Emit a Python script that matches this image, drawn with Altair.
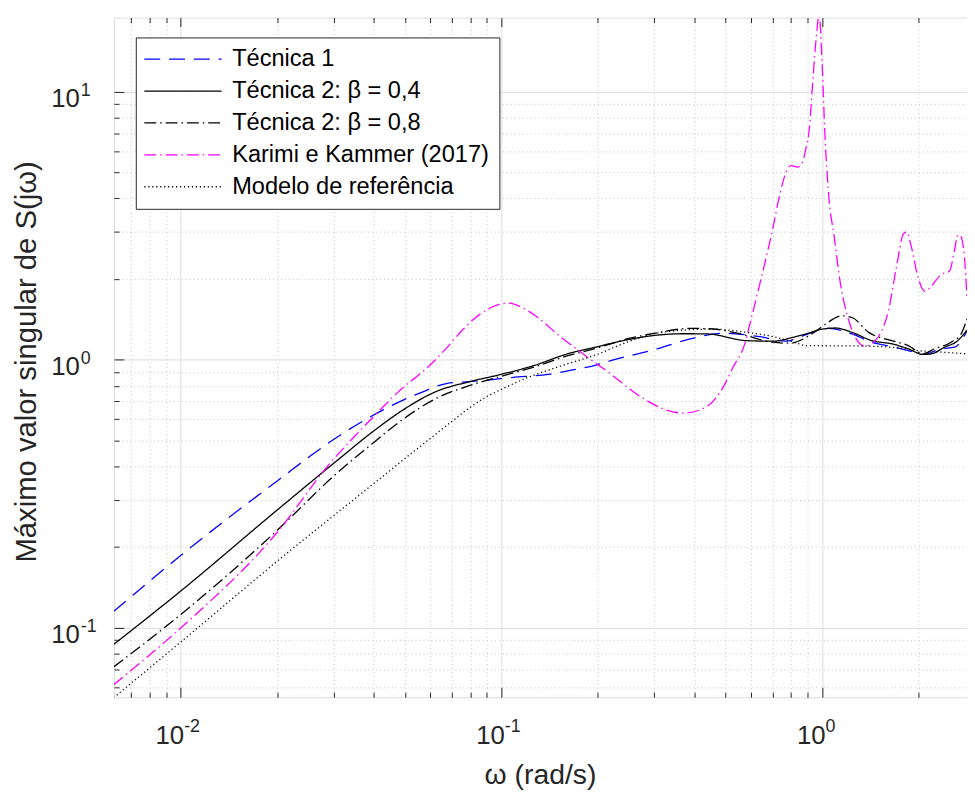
import altair as alt
import pandas as pd

# ---------------- data ----------------
SERIES = ["Técnica 1", "Técnica 2: β = 0,4", "Técnica 2: β = 0,8",
          "Karimi e Kammer (2017)", "Modelo de referência"]
COLORS = ["#0000FF", "#000000", "#000000", "#FF00FF", "#000000"]
DASHES = [[16, 9], [1, 0], [12, 4, 1.5, 4], [12, 4, 1.5, 4], [1.2, 2.8]]

W_T1 = [0.00618, 0.01, 0.02, 0.0308, 0.0428, 0.0494, 0.0569, 0.0673, 0.0775, 0.0898,
        0.108, 0.14, 0.161, 0.196, 0.225, 0.306, 0.388, 0.492, 0.639, 0.772, 0.849,
        0.933, 1.051, 1.24, 1.43, 1.649, 1.857, 2.066, 2.353, 2.587, 2.83]
V_T1 = [0.115, 0.186, 0.353, 0.515, 0.65, 0.707, 0.759, 0.815, 0.827, 0.838,
        0.858, 0.882, 0.908, 0.953, 1.0, 1.098, 1.196, 1.254, 1.219, 1.172, 1.212,
        1.265, 1.309, 1.248, 1.162, 1.12, 1.082, 1.046, 1.098, 1.113, 1.28]

W_T2A = [0.00618, 0.01, 0.02, 0.0307, 0.0398, 0.0494, 0.0623, 0.0793, 0.1, 0.127,
         0.161, 0.196, 0.25, 0.306, 0.37, 0.437, 0.581, 0.703, 0.81, 0.89, 1.0,
         1.102, 1.24, 1.43, 1.649, 1.857, 2.066, 2.192, 2.409, 2.65, 2.83]
V_T2A = [0.0866, 0.137, 0.275, 0.42, 0.54, 0.65, 0.759, 0.827, 0.882, 0.953,
         1.052, 1.113, 1.19, 1.235, 1.25, 1.248, 1.178, 1.172, 1.212, 1.248, 1.30,
         1.313, 1.265, 1.178, 1.146, 1.098, 1.046, 1.052, 1.113, 1.178, 1.29]

W_T2B = [0.00618, 0.01, 0.02, 0.03, 0.0398, 0.0494, 0.0623, 0.0793, 0.1, 0.127,
         0.161, 0.196, 0.25, 0.306, 0.388, 0.458, 0.554, 0.702, 0.791, 0.955, 1.026,
         1.155, 1.24, 1.397, 1.649, 1.857, 2.066, 2.244, 2.526, 2.714, 2.83]
V_T2B = [0.0714, 0.112, 0.231, 0.368, 0.489, 0.60, 0.715, 0.80, 0.868, 0.94,
         1.035, 1.10, 1.20, 1.26, 1.309, 1.302, 1.248, 1.162, 1.152, 1.276, 1.359,
         1.458, 1.437, 1.265, 1.178, 1.129, 1.052, 1.098, 1.162, 1.248, 1.42]

W_KK = [0.00618, 0.01, 0.02, 0.0293, 0.0355, 0.0408, 0.0478, 0.0596, 0.0672, 0.0756,
        0.0852, 0.0958, 0.105, 0.1212, 0.154, 0.186, 0.215, 0.272, 0.32, 0.37, 0.437,
        0.492, 0.528, 0.574, 0.60, 0.639, 0.702, 0.737, 0.772, 0.80, 0.839, 0.869,
        0.890, 0.912, 0.933, 0.955, 0.98, 1.002, 1.021, 1.038, 1.051, 1.089, 1.142,
        1.212, 1.301, 1.348, 1.397, 1.464, 1.517, 1.61, 1.708, 1.792, 1.835, 1.901,
        1.994, 2.09, 2.19, 2.353, 2.496, 2.587, 2.65, 2.70, 2.78, 2.83]
V_KK = [0.0613, 0.0998, 0.227, 0.4125, 0.53, 0.63, 0.76, 0.95, 1.10, 1.29,
        1.47, 1.59, 1.625, 1.52, 1.21, 1.02, 0.90, 0.727, 0.655, 0.632, 0.668,
        0.792, 0.939, 1.146, 1.41, 1.91, 3.09, 4.1, 5.0, 5.3, 5.23, 5.47,
        6.12, 7.24, 10.45, 15.1, 19.2, 12.1, 6.85, 4.87, 3.99, 2.92, 1.91,
        1.397, 1.16, 1.125, 1.13, 1.178, 1.248, 1.52, 2.24, 2.94, 3.0, 2.62,
        2.02, 1.80, 1.88, 2.08, 2.14, 2.55, 2.92, 2.90, 2.40, 1.70]

W_REF = [0.00618, 0.01, 0.02, 0.03, 0.04, 0.05, 0.06, 0.07, 0.08, 0.09, 0.1, 0.12,
         0.15, 0.2, 0.25, 0.3, 0.37, 0.458, 0.581, 0.702, 0.80, 0.849, 0.89, 1.3,
         1.65, 1.99, 2.4, 2.83]
V_REF = [0.0548, 0.0884, 0.177, 0.262, 0.345, 0.428, 0.508, 0.588, 0.665, 0.728,
         0.775, 0.855, 0.94, 1.05, 1.17, 1.25, 1.29, 1.30, 1.265, 1.22, 1.17,
         1.145, 1.129, 1.125, 1.113, 1.082, 1.066, 1.052]

X_DOMAIN = [0.006194, 2.831]
Y_DOMAIN = [0.05501, 18.90]
X_MAJOR = [0.01, 0.1, 1]
X_MINOR = [0.007, 0.008, 0.009, 0.02, 0.03, 0.04, 0.05, 0.06, 0.07, 0.08, 0.09,
           0.2, 0.3, 0.4, 0.5, 0.6, 0.7, 0.8, 0.9, 2]
Y_MAJOR = [0.1, 1, 10]
Y_MINOR = [0.06, 0.07, 0.08, 0.09, 0.2, 0.3, 0.4, 0.5, 0.6, 0.7, 0.8, 0.9,
           2, 3, 4, 5, 6, 7, 8, 9]

rows = []
for name, ws, vs in zip(SERIES, [W_T1, W_T2A, W_T2B, W_KK, W_REF],
                        [V_T1, V_T2A, V_T2B, V_KK, V_REF]):
    for i, (w, v) in enumerate(zip(ws, vs)):
        rows.append({"series": name, "w": w, "v": v, "i": i})
df = pd.DataFrame(rows)

# ---------------- styling ----------------
FONT = "Liberation Sans"
AX = "#262626"
xs = alt.Scale(type="log", domain=X_DOMAIN, nice=False)
ys = alt.Scale(type="log", domain=Y_DOMAIN, nice=False)
base = alt.Chart(df)


def guide(xaxis, yaxis, xtitle=None, ytitle=None):
    return base.mark_line(strokeOpacity=0).encode(
        x=alt.X("w:Q", scale=xs, axis=xaxis, title=xtitle),
        y=alt.Y("v:Q", scale=ys, axis=yaxis, title=ytitle),
        detail="series:N",
    )


def tick_axis(orient, values, size, grid, dash=None, gcolor="#dedede"):
    kw = dict(orient=orient, values=values, tickSize=size, offset=-size,
              labels=False, domain=False, ticks=True, tickColor=AX, tickWidth=1,
              grid=grid, gridColor=gcolor, gridWidth=1)
    if dash is not None:
        kw["gridDash"] = dash
    return alt.Axis(**kw)


def label_axis(orient, values, expr, size, align, padding, offset, **extra):
    return alt.Axis(orient=orient, values=values, labelExpr=expr, labelFont=FONT,
                    labelFontSize=size, labelColor=AX, labelAlign=align,
                    labelBaseline="alphabetic", labelPadding=padding,
                    labelOffset=offset, ticks=False, tickSize=0, domain=False,
                    grid=False, labelFlush=False, labelOverlap=False, **extra)


EXP_X = "datum.value < 0.05 ? '-2' : datum.value < 0.5 ? '-1' : '0'"
EXP_Y = "datum.value < 0.5 ? '-1' : datum.value < 5 ? '0' : '1'"

minor = guide(tick_axis("bottom", X_MINOR, 5, True, [1, 3], "#c2c2c2"),
              tick_axis("left", Y_MINOR, 5, True, [1, 3], "#c2c2c2"))
major = guide(tick_axis("bottom", X_MAJOR, 10, True),
              tick_axis("left", Y_MAJOR, 10, True))
top_minor = guide(tick_axis("top", X_MINOR, 5, False), None)
top_major = guide(tick_axis("top", X_MAJOR, 9, False), None)

labels_base = guide(
    label_axis("bottom", X_MAJOR, "'10'", 26, "right", 47, 3,
               titleFont=FONT, titleFontSize=28.6, titleColor=AX,
               titleFontWeight="normal", titleX=430, titleY=87,
               titleBaseline="alphabetic", titleAlign="center"),
    label_axis("left", Y_MAJOR, "'10'", 26, "right", 35, 15,
               titleFont=FONT, titleFontSize=29.5, titleColor=AX,
               titleFontWeight="normal", titleX=-79, titleY=347, titleAngle=270,
               titleBaseline="alphabetic", titleAlign="center"),
    xtitle="ω (rad/s)", ytitle="Máximo valor singular de S(jω)")
labels_exp = guide(label_axis("bottom", X_MAJOR, EXP_X, 18, "left", 35, 3),
                   label_axis("left", Y_MAJOR, EXP_Y, 18, "left", 34, 4))

legend = alt.Legend(
    title=None, orient="none", legendX=22, legendY=20,
    symbolType="M-1.33,0H6.47", symbolSize=400, symbolStrokeWidth=1.3,
    labelOffset=63.5, labelFont=FONT, labelFontSize=23.8, labelColor="#000000",
    labelLimit=400, rowPadding=7.2, padding=10, strokeColor=AX,
    fillColor="white", symbolOpacity=1)

lines = base.mark_line(strokeWidth=1.3, clip=True, interpolate="monotone").encode(
    x=alt.X("w:Q", scale=xs, axis=None),
    y=alt.Y("v:Q", scale=ys, axis=None),
    color=alt.Color("series:N", scale=alt.Scale(domain=SERIES, range=COLORS),
                    sort=SERIES, legend=legend),
    strokeDash=alt.StrokeDash("series:N", scale=alt.Scale(domain=SERIES, range=DASHES),
                              sort=SERIES, legend=legend),
    order="i:Q",
)

chart = alt.layer(minor, major, top_minor, top_major, labels_base, labels_exp, lines).resolve_axis(
    x="independent", y="independent"
).properties(
    width=861, height=686,
    autosize=alt.AutoSizeParams(type="none"),
    padding={"left": 107, "top": 6, "right": 0, "bottom": 100},
).configure_view(stroke=AX, strokeWidth=1.2).configure(background="white")

chart.save("out.html", embed_options={"renderer": "svg", "actions": False})
